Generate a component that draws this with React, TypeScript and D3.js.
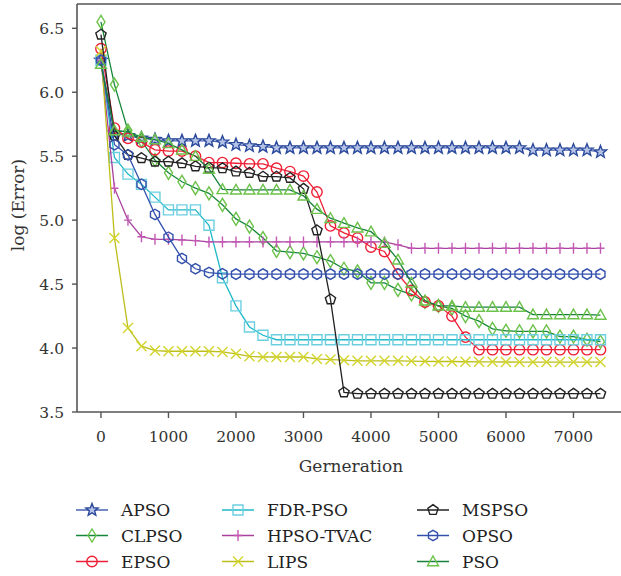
import React from "react";
import * as d3 from "d3";

const generations = [0, 200, 400, 600, 800, 1000, 1200, 1400, 1600, 1800, 2000, 2200, 2400, 2600, 2800, 3000, 3200, 3400, 3600, 3800, 4000, 4200, 4400, 4600, 4800, 5000, 5200, 5400, 5600, 5800, 6000, 6200, 6400, 6600, 6800, 7000, 7200, 7400];

const apso = [6.25, 5.68, 5.66, 5.64, 5.63, 5.62, 5.62, 5.62, 5.62, 5.61, 5.59, 5.58, 5.575, 5.565, 5.565, 5.565, 5.565, 5.565, 5.565, 5.565, 5.565, 5.565, 5.565, 5.565, 5.565, 5.565, 5.565, 5.565, 5.565, 5.565, 5.565, 5.565, 5.547, 5.547, 5.547, 5.547, 5.547, 5.533];
const clpso = [6.55, 6.06, 5.70, 5.62, 5.47, 5.37, 5.30, 5.25, 5.21, 5.12, 5.01, 4.95, 4.86, 4.76, 4.75, 4.74, 4.71, 4.68, 4.62, 4.60, 4.51, 4.51, 4.455, 4.42, 4.36, 4.33, 4.31, 4.25, 4.21, 4.15, 4.135, 4.13, 4.13, 4.13, 4.09, 4.09, 4.065, 4.05];
const epso = [6.34, 5.72, 5.64, 5.61, 5.55, 5.54, 5.54, 5.50, 5.45, 5.45, 5.445, 5.44, 5.44, 5.406, 5.38, 5.345, 5.22, 4.955, 4.90, 4.86, 4.79, 4.755, 4.58, 4.45, 4.36, 4.33, 4.25, 4.085, 3.987, 3.987, 3.987, 3.987, 3.987, 3.987, 3.987, 3.987, 3.987, 3.987];
const fdrpso = [6.25, 5.49, 5.36, 5.28, 5.18, 5.08, 5.08, 5.08, 4.96, 4.55, 4.33, 4.165, 4.10, 4.065, 4.065, 4.065, 4.065, 4.065, 4.065, 4.065, 4.065, 4.065, 4.065, 4.065, 4.065, 4.065, 4.065, 4.065, 4.065, 4.065, 4.065, 4.065, 4.065, 4.065, 4.065, 4.065, 4.065, 4.065];
const hpsotvac = [6.25, 5.25, 5.00, 4.87, 4.85, 4.85, 4.845, 4.84, 4.83, 4.83, 4.83, 4.83, 4.83, 4.83, 4.83, 4.83, 4.83, 4.83, 4.83, 4.83, 4.83, 4.83, 4.807, 4.78, 4.78, 4.78, 4.78, 4.78, 4.78, 4.78, 4.78, 4.78, 4.78, 4.78, 4.78, 4.78, 4.78, 4.78];
const lips = [6.32, 4.86, 4.156, 4.015, 3.98, 3.975, 3.975, 3.975, 3.975, 3.97, 3.955, 3.935, 3.93, 3.93, 3.93, 3.93, 3.915, 3.91, 3.905, 3.90, 3.90, 3.90, 3.90, 3.898, 3.896, 3.895, 3.895, 3.893, 3.892, 3.892, 3.891, 3.89, 3.89, 3.89, 3.89, 3.89, 3.89, 3.89];
const mspso = [6.45, 5.66, 5.51, 5.485, 5.457, 5.457, 5.445, 5.42, 5.41, 5.406, 5.38, 5.37, 5.34, 5.34, 5.33, 5.245, 4.92, 4.38, 3.653, 3.643, 3.643, 3.643, 3.643, 3.643, 3.643, 3.643, 3.643, 3.643, 3.643, 3.643, 3.643, 3.643, 3.643, 3.643, 3.643, 3.643, 3.643, 3.643];
const opso = [6.25, 5.59, 5.51, 5.28, 5.045, 4.867, 4.70, 4.62, 4.59, 4.58, 4.578, 4.578, 4.578, 4.578, 4.578, 4.578, 4.578, 4.578, 4.578, 4.578, 4.578, 4.578, 4.578, 4.578, 4.578, 4.578, 4.578, 4.578, 4.578, 4.578, 4.578, 4.578, 4.578, 4.578, 4.578, 4.578, 4.578, 4.578];
const pso = [6.22, 5.70, 5.69, 5.65, 5.63, 5.60, 5.55, 5.50, 5.40, 5.24, 5.237, 5.237, 5.237, 5.237, 5.237, 5.19, 5.086, 5.015, 4.976, 4.94, 4.91, 4.82, 4.69, 4.51, 4.37, 4.33, 4.33, 4.32, 4.32, 4.32, 4.32, 4.32, 4.262, 4.262, 4.262, 4.262, 4.262, 4.258];

const xTicks = [0, 1000, 2000, 3000, 4000, 5000, 6000, 7000];
const yTicks = [3.5, 4.0, 4.5, 5.0, 5.5, 6.0, 6.5];

type Shape = "star" | "diamond" | "circle" | "square" | "plus" | "x" | "pentagon" | "hexagon" | "triangle";

const seriesList: { name: string; values: number[]; line: string; mark: string; fill: string; shape: Shape }[] = [
  { name: "APSO", values: apso, line: "#4763b3", mark: "#2c4a9c", fill: "#b4c2e6", shape: "star" },
  { name: "CLPSO", values: clpso, line: "#17873a", mark: "#6cc24a", fill: "none", shape: "diamond" },
  { name: "EPSO", values: epso, line: "#ee1f35", mark: "#ee1f35", fill: "none", shape: "circle" },
  { name: "FDR-PSO", values: fdrpso, line: "#1fb8c9", mark: "#6ccfe0", fill: "none", shape: "square" },
  { name: "HPSO-TVAC", values: hpsotvac, line: "#a8409e", mark: "#c258b4", fill: "none", shape: "plus" },
  { name: "LIPS", values: lips, line: "#bdbd1c", mark: "#d2d52c", fill: "none", shape: "x" },
  { name: "MSPSO", values: mspso, line: "#222222", mark: "#222222", fill: "none", shape: "pentagon" },
  { name: "OPSO", values: opso, line: "#3350ad", mark: "#3350ad", fill: "none", shape: "hexagon" },
  { name: "PSO", values: pso, line: "#17803a", mark: "#6cc24a", fill: "none", shape: "triangle" },
];

function poly(n: number, r: number, rot: number): string {
  const pts: string[] = [];
  for (let i = 0; i < n; i++) {
    const a = rot + (i * 2 * Math.PI) / n;
    pts.push(`${(r * Math.cos(a)).toFixed(2)},${(r * Math.sin(a)).toFixed(2)}`);
  }
  return "M" + pts.join("L") + "Z";
}

function starPath(ro: number, ri: number): string {
  const pts: string[] = [];
  for (let i = 0; i < 10; i++) {
    const r = i % 2 === 0 ? ro : ri;
    const a = -Math.PI / 2 + (i * Math.PI) / 5;
    pts.push(`${(r * Math.cos(a)).toFixed(2)},${(r * Math.sin(a)).toFixed(2)}`);
  }
  return "M" + pts.join("L") + "Z";
}

function shapePath(s: Shape): string {
  switch (s) {
    case "star": return starPath(6.5, 2.8);
    case "diamond": return "M0,-6.5L4,0L0,6.5L-4,0Z";
    case "circle": return "M5.2,0A5.2,5.2 0 1,1 -5.2,0A5.2,5.2 0 1,1 5.2,0Z";
    case "square": return "M-5,-5L5,-5L5,5L-5,5Z";
    case "plus": return "M0,-5.5L0,5.5M-4,0L4,0";
    case "x": return "M-5,-5L5,5M-5,5L5,-5";
    case "pentagon": return poly(5, 5.4, -Math.PI / 2);
    case "hexagon": return poly(6, 5.2, Math.PI / 2);
    case "triangle": return "M0,-5.5L5.5,4.2L-5.5,4.2Z";
  }
}

const W = 621;
const H = 576;
const left = 77;
const top = 4;
const bottom = 412;
const right = 621;

export default function App() {
  const x = d3.scaleLinear().domain([-355, 7704]).range([left, right]);
  const y = d3.scaleLinear().domain([3.5, 6.69]).range([bottom, top]);
  const line = d3.line<number>().x((_, i) => x(generations[i])).y((d) => y(d));
  const font = "'DejaVu Serif', serif";
  const axisColor = "#555";
  const legendCols = [
    { lx: 76, tx: 121 },
    { lx: 222, tx: 267 },
    { lx: 417, tx: 462 },
  ];
  const legendRows = [510, 535.5, 561.5];

  return (
    <svg width={W} height={H} style={{ position: "absolute", left: 0, top: 0, background: "#fff" }} fontFamily={font}>
      {/* frame */}
      <line x1={left} y1={top} x2={right} y2={top} stroke={axisColor} strokeWidth={1.6} />
      <line x1={left} y1={top} x2={left} y2={bottom} stroke={axisColor} strokeWidth={1.6} />
      <line x1={left} y1={bottom} x2={right} y2={bottom} stroke={axisColor} strokeWidth={1.6} />
      {yTicks.map((t) => (
        <g key={"y" + t}>
          <line x1={left - 5} x2={left} y1={y(t)} y2={y(t)} stroke={axisColor} strokeWidth={1.4} />
          <text x={left - 13} y={y(t)} dy="0.36em" textAnchor="end" fontSize={15.5} fill="#333">
            {d3.format(".1f")(t)}
          </text>
        </g>
      ))}
      {xTicks.map((t) => (
        <g key={"x" + t}>
          <line x1={x(t)} x2={x(t)} y1={bottom} y2={bottom + 6} stroke={axisColor} strokeWidth={1.4} />
          <text x={x(t)} y={442} textAnchor="middle" fontSize={15.5} fill="#333">
            {t}
          </text>
        </g>
      ))}
      <text x={351} y={472} textAnchor="middle" fontSize={17} fill="#333">Gerneration</text>
      <text transform="translate(24,205) rotate(-90)" textAnchor="middle" fontSize={17} fill="#333">log (Error)</text>

      {seriesList.map((s) => (
        <g key={s.name}>
          <path d={line(s.values) || ""} fill="none" stroke={s.line} strokeWidth={1.3} />
          {s.values.map((v, i) => (
            <path
              key={i}
              d={shapePath(s.shape)}
              transform={`translate(${x(generations[i])},${y(v)})`}
              fill={s.fill}
              stroke={s.mark}
              strokeWidth={1.4}
            />
          ))}
        </g>
      ))}

      {seriesList.map((s, i) => {
        const col = legendCols[Math.floor(i / 3)];
        const ry = legendRows[i % 3];
        return (
          <g key={"lg" + s.name}>
            <line x1={col.lx} x2={col.lx + 32} y1={ry} y2={ry} stroke={s.line} strokeWidth={1.5} />
            <path d={shapePath(s.shape)} transform={`translate(${col.lx + 16},${ry})`} fill={s.fill} stroke={s.mark} strokeWidth={1.4} />
            <text x={col.tx} y={ry} dy="0.36em" fontSize={17} fill="#222">{s.name}</text>
          </g>
        );
      })}
    </svg>
  );
}
